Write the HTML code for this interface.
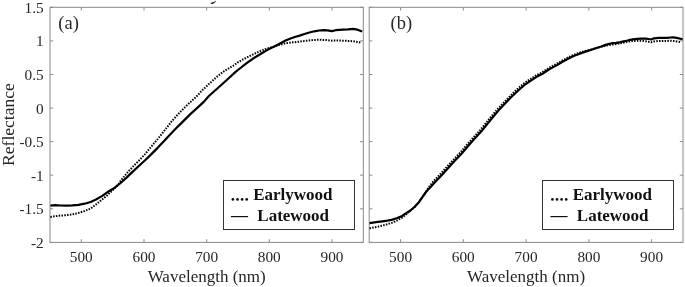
<!DOCTYPE html>
<html><head><meta charset="utf-8"><style>
html,body{margin:0;padding:0;background:#fff;}
body{width:685px;height:287px;overflow:hidden;}
svg{display:block;will-change:transform;}
text{font-family:"Liberation Serif",serif;}
</style></head><body>
<svg width="685" height="287" viewBox="0 0 685 287" font-family="Liberation Serif, serif" font-size="15.3" fill="#262626">
<rect width="685" height="287" fill="#fff"/>
<rect x="50.0" y="7.3" width="313.3" height="235.1" fill="none" stroke="#8a8a8a" stroke-width="1"/>
<line x1="81.3" y1="242.4" x2="81.3" y2="239.20000000000002" stroke="#8a8a8a" stroke-width="1"/>
<line x1="81.3" y1="7.3" x2="81.3" y2="10.5" stroke="#8a8a8a" stroke-width="1"/>
<text x="81.3" y="261.7" text-anchor="middle">500</text>
<line x1="144.0" y1="242.4" x2="144.0" y2="239.20000000000002" stroke="#8a8a8a" stroke-width="1"/>
<line x1="144.0" y1="7.3" x2="144.0" y2="10.5" stroke="#8a8a8a" stroke-width="1"/>
<text x="144.0" y="261.7" text-anchor="middle">600</text>
<line x1="206.7" y1="242.4" x2="206.7" y2="239.20000000000002" stroke="#8a8a8a" stroke-width="1"/>
<line x1="206.7" y1="7.3" x2="206.7" y2="10.5" stroke="#8a8a8a" stroke-width="1"/>
<text x="206.7" y="261.7" text-anchor="middle">700</text>
<line x1="269.3" y1="242.4" x2="269.3" y2="239.20000000000002" stroke="#8a8a8a" stroke-width="1"/>
<line x1="269.3" y1="7.3" x2="269.3" y2="10.5" stroke="#8a8a8a" stroke-width="1"/>
<text x="269.3" y="261.7" text-anchor="middle">800</text>
<line x1="332.0" y1="242.4" x2="332.0" y2="239.20000000000002" stroke="#8a8a8a" stroke-width="1"/>
<line x1="332.0" y1="7.3" x2="332.0" y2="10.5" stroke="#8a8a8a" stroke-width="1"/>
<text x="332.0" y="261.7" text-anchor="middle">900</text>
<line x1="50.0" y1="7.3" x2="53.2" y2="7.3" stroke="#8a8a8a" stroke-width="1"/>
<line x1="363.3" y1="7.3" x2="360.1" y2="7.3" stroke="#8a8a8a" stroke-width="1"/>
<text x="43.7" y="12.7" text-anchor="end">1.5</text>
<line x1="50.0" y1="40.9" x2="53.2" y2="40.9" stroke="#8a8a8a" stroke-width="1"/>
<line x1="363.3" y1="40.9" x2="360.1" y2="40.9" stroke="#8a8a8a" stroke-width="1"/>
<text x="43.7" y="46.3" text-anchor="end">1</text>
<line x1="50.0" y1="74.5" x2="53.2" y2="74.5" stroke="#8a8a8a" stroke-width="1"/>
<line x1="363.3" y1="74.5" x2="360.1" y2="74.5" stroke="#8a8a8a" stroke-width="1"/>
<text x="43.7" y="79.9" text-anchor="end">0.5</text>
<line x1="50.0" y1="108.1" x2="53.2" y2="108.1" stroke="#8a8a8a" stroke-width="1"/>
<line x1="363.3" y1="108.1" x2="360.1" y2="108.1" stroke="#8a8a8a" stroke-width="1"/>
<text x="43.7" y="113.5" text-anchor="end">0</text>
<line x1="50.0" y1="141.6" x2="53.2" y2="141.6" stroke="#8a8a8a" stroke-width="1"/>
<line x1="363.3" y1="141.6" x2="360.1" y2="141.6" stroke="#8a8a8a" stroke-width="1"/>
<text x="43.7" y="147.0" text-anchor="end">-0.5</text>
<line x1="50.0" y1="175.2" x2="53.2" y2="175.2" stroke="#8a8a8a" stroke-width="1"/>
<line x1="363.3" y1="175.2" x2="360.1" y2="175.2" stroke="#8a8a8a" stroke-width="1"/>
<text x="43.7" y="180.6" text-anchor="end">-1</text>
<line x1="50.0" y1="208.8" x2="53.2" y2="208.8" stroke="#8a8a8a" stroke-width="1"/>
<line x1="363.3" y1="208.8" x2="360.1" y2="208.8" stroke="#8a8a8a" stroke-width="1"/>
<text x="43.7" y="214.2" text-anchor="end">-1.5</text>
<line x1="50.0" y1="242.4" x2="53.2" y2="242.4" stroke="#8a8a8a" stroke-width="1"/>
<line x1="363.3" y1="242.4" x2="360.1" y2="242.4" stroke="#8a8a8a" stroke-width="1"/>
<text x="43.7" y="247.8" text-anchor="end">-2</text>
<text x="206.7" y="282" text-anchor="middle" font-size="17">Wavelength (nm)</text>
<rect x="369.2" y="7.3" width="313.8" height="235.1" fill="none" stroke="#8a8a8a" stroke-width="1"/>
<line x1="400.6" y1="242.4" x2="400.6" y2="239.20000000000002" stroke="#8a8a8a" stroke-width="1"/>
<line x1="400.6" y1="7.3" x2="400.6" y2="10.5" stroke="#8a8a8a" stroke-width="1"/>
<text x="400.6" y="261.7" text-anchor="middle">500</text>
<line x1="463.3" y1="242.4" x2="463.3" y2="239.20000000000002" stroke="#8a8a8a" stroke-width="1"/>
<line x1="463.3" y1="7.3" x2="463.3" y2="10.5" stroke="#8a8a8a" stroke-width="1"/>
<text x="463.3" y="261.7" text-anchor="middle">600</text>
<line x1="526.1" y1="242.4" x2="526.1" y2="239.20000000000002" stroke="#8a8a8a" stroke-width="1"/>
<line x1="526.1" y1="7.3" x2="526.1" y2="10.5" stroke="#8a8a8a" stroke-width="1"/>
<text x="526.1" y="261.7" text-anchor="middle">700</text>
<line x1="588.9" y1="242.4" x2="588.9" y2="239.20000000000002" stroke="#8a8a8a" stroke-width="1"/>
<line x1="588.9" y1="7.3" x2="588.9" y2="10.5" stroke="#8a8a8a" stroke-width="1"/>
<text x="588.9" y="261.7" text-anchor="middle">800</text>
<line x1="651.6" y1="242.4" x2="651.6" y2="239.20000000000002" stroke="#8a8a8a" stroke-width="1"/>
<line x1="651.6" y1="7.3" x2="651.6" y2="10.5" stroke="#8a8a8a" stroke-width="1"/>
<text x="651.6" y="261.7" text-anchor="middle">900</text>
<line x1="369.2" y1="7.3" x2="372.4" y2="7.3" stroke="#8a8a8a" stroke-width="1"/>
<line x1="683.0" y1="7.3" x2="679.8" y2="7.3" stroke="#8a8a8a" stroke-width="1"/>
<line x1="369.2" y1="40.9" x2="372.4" y2="40.9" stroke="#8a8a8a" stroke-width="1"/>
<line x1="683.0" y1="40.9" x2="679.8" y2="40.9" stroke="#8a8a8a" stroke-width="1"/>
<line x1="369.2" y1="74.5" x2="372.4" y2="74.5" stroke="#8a8a8a" stroke-width="1"/>
<line x1="683.0" y1="74.5" x2="679.8" y2="74.5" stroke="#8a8a8a" stroke-width="1"/>
<line x1="369.2" y1="108.1" x2="372.4" y2="108.1" stroke="#8a8a8a" stroke-width="1"/>
<line x1="683.0" y1="108.1" x2="679.8" y2="108.1" stroke="#8a8a8a" stroke-width="1"/>
<line x1="369.2" y1="141.6" x2="372.4" y2="141.6" stroke="#8a8a8a" stroke-width="1"/>
<line x1="683.0" y1="141.6" x2="679.8" y2="141.6" stroke="#8a8a8a" stroke-width="1"/>
<line x1="369.2" y1="175.2" x2="372.4" y2="175.2" stroke="#8a8a8a" stroke-width="1"/>
<line x1="683.0" y1="175.2" x2="679.8" y2="175.2" stroke="#8a8a8a" stroke-width="1"/>
<line x1="369.2" y1="208.8" x2="372.4" y2="208.8" stroke="#8a8a8a" stroke-width="1"/>
<line x1="683.0" y1="208.8" x2="679.8" y2="208.8" stroke="#8a8a8a" stroke-width="1"/>
<line x1="369.2" y1="242.4" x2="372.4" y2="242.4" stroke="#8a8a8a" stroke-width="1"/>
<line x1="683.0" y1="242.4" x2="679.8" y2="242.4" stroke="#8a8a8a" stroke-width="1"/>
<text x="526.1" y="282" text-anchor="middle" font-size="17">Wavelength (nm)</text>
<text x="58.3" y="29.1" font-size="18.5">(a)</text>
<text x="390.6" y="29.1" font-size="18.5">(b)</text>
<text transform="translate(14,124.6) rotate(-90)" text-anchor="middle" font-size="17.5">Reflectance</text>
<g fill="none" stroke="#000" stroke-linejoin="round">
<polyline points="50.4,205.6 55.3,205.1 60.2,205.5 66.3,205.7 72.4,205.4 78.5,204.8 84.6,203.7 90.7,202.0 96.0,199.5 102.3,195.9 108.5,191.5 114.8,187.7 120.0,183.5 126.3,177.9 132.5,171.9 138.8,166.0 145.1,160.2 150.9,154.6 157.9,147.6 164.8,140.3 169.2,135.4 176.1,128.3 183.1,121.4 190.1,114.4 197.0,108.1 204.0,101.6 208.9,96.0 215.9,89.8 222.9,83.5 229.8,77.2 235.0,72.4 241.7,67.0 247.0,62.9 253.9,58.0 260.9,53.7 267.9,49.6 274.8,46.2 281.8,42.6 285.0,40.7 289.9,38.7 294.8,37.0 299.6,35.6 304.5,34.0 309.4,32.5 314.3,31.3 319.1,30.5 324.0,30.1 327.2,30.4 331.9,31.1 335.6,30.2 342.9,29.7 348.1,29.4 353.3,28.9 357.5,29.7 362.2,31.5" stroke-width="2.2"/>
<polyline points="50.4,217.1 55.3,216.2 60.2,215.6 66.3,215.2 72.4,214.4 78.5,213.0 84.6,211.0 90.7,208.6 96.5,204.1 101.0,200.4 106.0,196.5 112.3,190.6 118.6,183.9 121.3,180.0 126.3,173.9 132.5,167.0 138.8,160.7 145.1,154.1 150.9,147.0 157.9,138.8 164.5,130.5 172.0,121.0 178.9,113.3 185.9,106.3 191.5,101.0 196.7,96.3 202.0,90.5 208.9,84.1 215.9,77.6 222.9,72.0 225.8,70.1 229.2,68.1 233.4,65.6 237.5,62.6 241.7,60.1 245.9,58.0 250.1,55.9 253.4,54.3 257.0,52.5 262.5,50.1 267.4,48.4 273.4,46.8 279.0,45.0 286.0,43.1 294.8,42.2 304.5,41.0 314.3,39.9 320.1,39.8 324.0,40.0 327.2,40.1 332.4,40.7 337.7,40.4 342.9,40.7 348.1,40.9 353.3,41.2 357.5,41.9 361.2,42.8" stroke-width="2" stroke-dasharray="1.5 1.3"/>
<polyline points="369.5,223.2 372.9,222.6 377.8,221.9 382.6,221.3 387.5,220.6 392.4,219.6 397.3,218.0 402.1,215.9 404.5,214.2 407.0,212.6 410.4,210.5 414.5,207.0 418.7,202.4 422.9,196.4 425.4,192.8 428.3,189.4 430.9,186.8 434.6,182.5 439.3,177.8 444.8,171.7 454.5,161.1 461.5,153.7 468.5,145.5 475.4,137.8 481.6,131.1 491.5,118.8 498.4,110.6 506.5,102.1 511.8,96.5 518.0,90.7 524.2,85.2 530.5,80.8 536.6,76.8 542.9,73.5 547.3,70.5 551.4,68.1 557.0,65.1 562.5,61.7 568.1,58.7 573.6,56.1 579.1,53.9 585.5,51.6 590.7,50.0 595.9,48.2 601.1,46.5 606.2,44.6 611.9,43.2 616.2,42.9 620.4,42.1 624.6,41.2 628.7,40.2 632.9,39.4 637.1,38.9 641.3,38.6 645.5,38.6 648.6,39.0 651.3,39.5 654.0,38.3 658.6,37.8 663.1,37.8 667.6,37.8 670.3,37.5 673.1,37.3 676.7,37.9 682.6,39.2" stroke-width="2.2"/>
<polyline points="369.5,228.4 372.9,227.6 377.8,226.7 382.6,225.5 387.5,224.2 392.4,222.6 397.3,220.4 402.1,217.6 405.5,215.0 410.4,210.5 414.5,207.0 418.7,202.4 422.9,196.4 425.4,192.8 427.7,188.9 429.8,185.9 433.3,181.3 438.0,176.6 443.5,170.5 453.2,159.9 460.2,152.6 467.2,144.4 474.1,136.7 480.3,130.0 490.2,117.7 497.2,109.5 505.3,101.0 510.7,95.3 516.9,89.5 523.2,83.9 529.6,79.5 535.9,75.5 542.2,72.3 546.6,69.3 550.7,66.9 556.3,64.0 562.0,60.7 567.6,57.7 573.1,55.1 578.8,52.9 585.3,50.9 590.6,49.6 595.9,48.1 601.2,46.8 606.4,45.4 612.2,44.6 616.2,44.1 620.4,43.3 624.6,42.4 628.7,41.6 632.9,41.0 637.1,40.7 641.3,40.7 645.5,41.2 648.8,41.8 651.3,42.3 654.0,41.4 658.6,40.9 663.1,40.9 667.6,40.9 672.1,40.8 676.7,41.4 681.2,42.3" stroke-width="2" stroke-dasharray="1.5 1.3"/>
</g>
<rect x="223.5" y="180.5" width="131" height="49" fill="#fff" stroke="#333" stroke-width="1"/>
<g font-weight="bold" font-size="17" fill="#111">
<circle cx="232.9" cy="199.4" r="1.35"/><circle cx="237.5" cy="199.4" r="1.35"/><circle cx="242.1" cy="199.4" r="1.35"/><circle cx="246.7" cy="199.4" r="1.35"/>
<text x="253.2" y="200.1">Earlywood</text>
<text x="231.0" y="221.3">—</text>
<text x="257.3" y="221.3">Latewood</text>
</g>
<rect x="542.5" y="180.5" width="131" height="49" fill="#fff" stroke="#333" stroke-width="1"/>
<g font-weight="bold" font-size="17" fill="#111">
<circle cx="552.4" cy="199.4" r="1.35"/><circle cx="557.0" cy="199.4" r="1.35"/><circle cx="561.6" cy="199.4" r="1.35"/><circle cx="566.2" cy="199.4" r="1.35"/>
<text x="572.7" y="200.1">Earlywood</text>
<text x="550.5" y="221.3">—</text>
<text x="576.8" y="221.3">Latewood</text>
</g>
<path d="M210.5,3.3 q1.5,-1.2 3.5,-1.2 l1.5,-1.3 l0.3,0.8 q-1,1.8 -3.3,2.3 q-1.5,0.3 -2,-0.6z" fill="#222"/>
</svg>
</body></html>
